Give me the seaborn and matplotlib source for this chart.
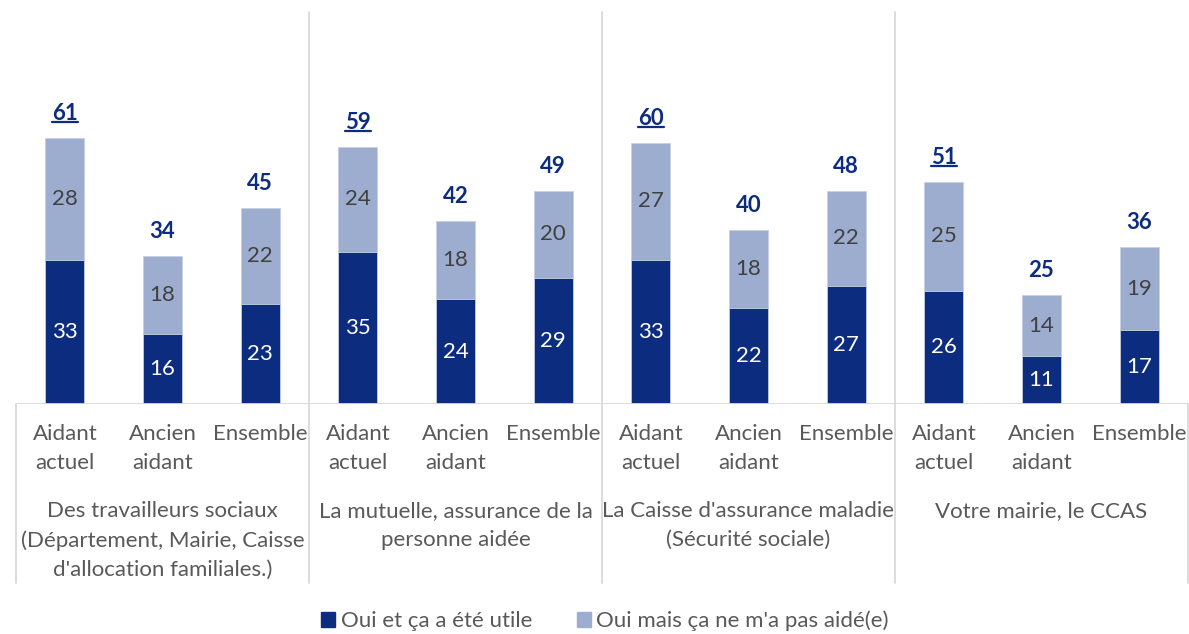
import matplotlib
matplotlib.use("Agg")
import matplotlib.pyplot as plt
import seaborn as sns
import pandas as pd
from matplotlib.lines import Line2D
from matplotlib.patches import Patch
import matplotlib.transforms as mtransforms

groups = ["Des travailleurs sociaux\n(Département, Mairie, Caisse\nd'allocation familiales.)",
          "La mutuelle, assurance de la\npersonne aidée",
          "La Caisse d'assurance maladie\n(Sécurité sociale)",
          "Votre mairie, le CCAS"]
subcats = ["Aidant\nactuel", "Ancien\naidant", "Ensemble"]
utile = [33, 16, 23, 35, 24, 29, 33, 22, 27, 26, 11, 17]
pas_aide = [28, 18, 22, 24, 18, 20, 27, 18, 22, 25, 14, 19]
totals = [61, 34, 45, 59, 42, 49, 60, 40, 48, 51, 25, 36]
series_names = ["Oui et ça a été utile", "Oui mais ça ne m'a pas aidé(e)"]

DARK = "#0c2c80"
LIGHT = "#9dadcf"
GRID = "#d9d9d9"
TXT = "#595959"

sns.set_style("white")
plt.rcParams['font.family'] = ['Lato', 'DejaVu Sans']

W, H = 1189, 634
fig = plt.figure(figsize=(W / 100, H / 100), dpi=100)
ax = fig.add_axes([16 / W, 230 / H, (1188 - 16) / W, 392 / H])

n = len(utile)
df = pd.DataFrame({"pos": list(range(n)),
                   "total": [u + p for u, p in zip(utile, pas_aide)],
                   "utile": utile})

sns.barplot(data=df, x="pos", y="total", color=LIGHT, width=0.4, ax=ax,
            saturation=1, order=list(range(n)), native_scale=True,
            edgecolor="#c8d1e4", linewidth=0.6)
sns.barplot(data=df, x="pos", y="utile", color=DARK, width=0.4, ax=ax,
            saturation=1, order=list(range(n)), native_scale=True,
            edgecolor="#c8d1e4", linewidth=0.6)

ax.set_xlim(-0.5, n - 0.5)
ax.set_ylim(0, 90)
for s in ax.spines.values():
    s.set_visible(False)
ax.set_xticks([])
ax.set_yticks([])
ax.set_xlabel("")
ax.set_ylabel("")

# baseline
ax.axhline(0, color=GRID, lw=1.3, zorder=5)

trans = mtransforms.blended_transform_factory(ax.transData, ax.transAxes)
low = -179 / 392
# separators
for b in [2.5, 5.5, 8.5]:
    ax.add_line(Line2D([b, b], [1.0, low], transform=trans, color=GRID, lw=1.3, clip_on=False))
for b in [-0.5, n - 0.5]:
    ax.add_line(Line2D([b, b], [0, low], transform=trans, color=GRID, lw=1.3, clip_on=False))

fs = 16
# segment labels
for i in range(n):
    ax.text(i, utile[i] / 2, str(utile[i]), ha="center", va="center", color="white", fontsize=fs)
    ax.text(i, utile[i] + pas_aide[i] / 2, str(pas_aide[i]), ha="center", va="center",
            color="#404040", fontsize=fs)

# totals
tot_texts = []
for i in range(n):
    t = ax.annotate(str(totals[i]), xy=(i, utile[i] + pas_aide[i]), xytext=(0, 10),
                    textcoords="offset points", ha="center", va="bottom",
                    color="#0c2c80", fontsize=fs, fontweight="bold")
    tot_texts.append((i, t))

# category labels
for i in range(n):
    ax.text(i, -20 / 392, subcats[i % 3], transform=trans, ha="center", va="top",
            color=TXT, fontsize=fs, linespacing=1.55)
for g, name in enumerate(groups):
    ax.text(g * 3 + 1, -97 / 392, name, transform=trans, ha="center", va="top",
            color=TXT, fontsize=fs, linespacing=1.55)

# legend
handles = [Patch(facecolor=DARK, edgecolor=DARK), Patch(facecolor=LIGHT, edgecolor=LIGHT)]
leg = fig.legend(handles, series_names, loc="center", bbox_to_anchor=(605 / W, 1 - 621 / H),
                 ncol=2, frameon=False, fontsize=fs, handlelength=0.63, handleheight=0.63,
                 handletextpad=0.25, columnspacing=2.0, labelcolor=TXT)

# underline totals of "Aidant actuel"
fig.canvas.draw()
r = fig.canvas.get_renderer()
inv = fig.transFigure.inverted()
for i, t in tot_texts:
    if i % 3 == 0:
        bb = t.get_window_extent(r)
        (x0, y0), (x1, _) = inv.transform([(bb.x0, bb.y0 + 2), (bb.x1, bb.y0 + 2)])
        fig.add_artist(Line2D([x0, x1], [y0, y0], transform=fig.transFigure,
                              color="#0c2c80", lw=1.6))

fig.savefig("out.png", dpi=100)
